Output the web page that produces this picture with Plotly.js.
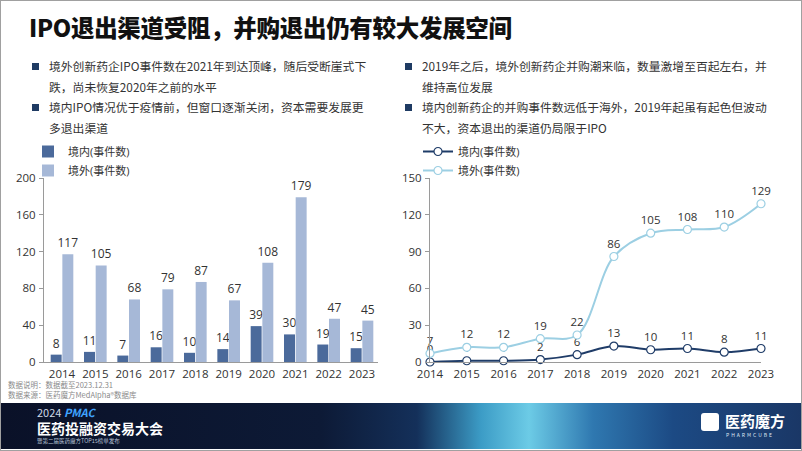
<!DOCTYPE html>
<html>
<head>
<meta charset="utf-8">
<script src="https://cdn.plot.ly/plotly-3.0.1.min.js"></script>
<style>
  html, body { margin:0; padding:0; width:802px; height:451px; overflow:hidden; background:#fff; }
  body { position:relative; font-family:"Noto Sans CJK SC","Noto Sans",sans-serif; }
  #frame { position:absolute; left:0; top:0; width:800px; height:449px; border:1px solid #a0a0a0; }
  #chart { position:absolute; left:0; top:0; width:802px; height:451px; }
  #title { position:absolute; left:29px; top:10px; font-size:23.5px; font-weight:900; color:#111; letter-spacing:-0.3px; white-space:nowrap; }
  .bul { position:absolute; font-size:11.8px; color:#333; line-height:20.5px; white-space:nowrap; }
  .bul .it { position:relative; padding-left:17px; }
  .bul .it:before { content:""; position:absolute; left:0; top:7px; width:7px; height:7px; background:#1f3b63; }
  #src { position:absolute; left:8px; top:380px; font-size:7.5px; color:#8a8a8a; line-height:10px; }
  #footer { position:absolute; left:1px; top:403px; width:800px; height:46px;
    background: linear-gradient(90deg, #0a1128 0%, #0d1a36 40%, #14305a 52%, #3c9cc6 60%, #6ccbe6 66%, #2f78b0 74%, #1c4a84 84%, #1a3766 100%); }
  #f1 { position:absolute; left:36px; top:3px; color:#cfd8e6; font-size:11px; line-height:12px; }
  #f1 b { color:#3fa3ff; font-weight:700; font-style:italic; }
  #f2 { position:absolute; left:36px; top:17px; color:#fff; font-size:14px; font-weight:700; line-height:16px; }
  #f3 { position:absolute; left:36px; top:35px; color:#b8c3d6; font-size:5.5px; line-height:7px; }
  #logo { position:absolute; left:700px; top:10px; width:18px; height:18px; background:#fff; border-radius:3px; }
  #l1 { position:absolute; left:724px; top:9px; color:#fff; font-size:15px; font-weight:700; line-height:18px; }
  #l2 { position:absolute; left:725px; top:29px; color:#dfe8f4; font-size:5px; letter-spacing:2px; line-height:6px; }
</style>
</head>
<body>
<div id="chart"></div>
<div id="title">IPO退出渠道受阻，并购退出仍有较大发展空间</div>
<div class="bul" style="left:32px; top:56px;">
  <div class="it">境外创新药企IPO事件数在2021年到达顶峰，随后受断崖式下<br>跌，尚未恢复2020年之前的水平</div>
  <div class="it">境内IPO情况优于疫情前，但窗口逐渐关闭，资本需要发展更<br>多退出渠道</div>
</div>
<div class="bul" style="left:405px; top:56px;">
  <div class="it">2019年之后，境外创新药企并购潮来临，数量激增至百起左右，并<br>维持高位发展</div>
  <div class="it">境内创新药企的并购事件数远低于海外，2019年起虽有起色但波动<br>不大，资本退出的渠道仍局限于IPO</div>
</div>
<div id="src">数据说明：数据截至2023.12.31<br>数据来源：医药魔方MedAlpha®数据库</div>
<div id="footer">
  <div id="f1">2024 <b>PMAC</b></div>
  <div id="f2">医药投融资交易大会</div>
  <div id="f3">暨第二届医药魔方TOP15榜单发布</div>
  <div id="logo"></div>
  <div id="l1">医药魔方</div>
  <div id="l2">PHARMCUBE</div>
</div>
<div id="frame"></div>
<script>
const years = ['2014','2015','2016','2017','2018','2019','2020','2021','2022','2023'];
const ipoDomestic = [8,11,7,16,10,14,39,30,19,15];
const ipoOverseas = [117,105,68,79,87,67,108,179,47,45];
const maDomestic = [0,1,1,2,6,13,10,11,8,11];
const maOverseas = [7,12,12,19,22,86,105,108,110,129];
const nameDomestic = '境内(事件数)';
const nameOverseas = '境外(事件数)';

const W = 802, H = 451;
const px = v => v / W;
const py = v => (H - v) / H;
const fam = '"Open Sans","Noto Sans CJK SC",sans-serif';
const txtFont = {family: fam, size: 12, color: '#333'};
const lineTxtFont = {family: fam, size: 11.5, color: '#333'};

const traces = [
  {type:'bar', x:years, y:ipoDomestic, name:nameDomestic, marker:{color:'#4b6a9b'},
   text:ipoDomestic.map(String), textposition:'outside', constraintext:'none', textfont:txtFont, cliponaxis:false,
   xaxis:'x', yaxis:'y', legend:'legend', hoverinfo:'skip'},
  {type:'bar', x:years, y:ipoOverseas, name:nameOverseas, marker:{color:'#a6b8d7'},
   text:ipoOverseas.map(String), textposition:'outside', constraintext:'none', textfont:txtFont, cliponaxis:false,
   xaxis:'x', yaxis:'y', legend:'legend', hoverinfo:'skip'},
  {type:'scatter', mode:'lines+markers+text', x:years, y:maDomestic, name:nameDomestic,
   line:{color:'#1f3c68', width:2, shape:'spline', smoothing:1},
   marker:{size:8, color:'#fff', line:{color:'#1f3c68', width:1.2}},
   text:maDomestic.map(String), textposition:'top center', textfont:lineTxtFont, cliponaxis:false,
   xaxis:'x2', yaxis:'y2', legend:'legend2', hoverinfo:'skip'},
  {type:'scatter', mode:'lines+markers+text', x:years, y:maOverseas, name:nameOverseas,
   line:{color:'#9ccfe3', width:2, shape:'spline', smoothing:1},
   marker:{size:8, color:'#fff', line:{color:'#9ccfe3', width:1.2}},
   text:maOverseas.map(String), textposition:'top center', textfont:lineTxtFont, cliponaxis:false,
   xaxis:'x2', yaxis:'y2', legend:'legend2', hoverinfo:'skip'}
];

const axisCommon = {showgrid:false, zeroline:false, showline:true, linecolor:'#9a9a9a', linewidth:1,
  tickfont:{family:fam, size:11.5, color:'#333'}, fixedrange:true};

const layout = {
  width: W, height: H,
  margin:{l:0, r:0, t:0, b:0},
  paper_bgcolor:'rgba(0,0,0,0)', plot_bgcolor:'rgba(0,0,0,0)',
  barmode:'group', bargap:0.3, bargroupgap:0.06,
  font:{family:fam, color:'#333'},
  xaxis: Object.assign({}, axisCommon, {domain:[px(44), px(378)], anchor:'y', type:'category',
     range:[-0.54, 9.48], ticks:'', ticklabelstandoff:1}),
  yaxis: Object.assign({}, axisCommon, {domain:[py(362), py(178)], anchor:'x', range:[0,200],
     tickvals:[0,40,80,120,160,200], ticks:'outside', ticklen:4, tickcolor:'#9a9a9a', ticklabelstandoff:1}),
  xaxis2: Object.assign({}, axisCommon, {domain:[px(430), px(761)], anchor:'y2', type:'category',
     range:[0, 9], ticks:'', ticklabelstandoff:1}),
  yaxis2: Object.assign({}, axisCommon, {domain:[py(362), py(178)], anchor:'x2', range:[0,150],
     tickvals:[0,30,60,90,120,150], ticks:'outside', ticklen:4, tickcolor:'#9a9a9a', ticklabelstandoff:1}),
  showlegend:true,
  legend:{x:px(28), y:py(137), xanchor:'left', yanchor:'top', orientation:'v',
     bgcolor:'rgba(0,0,0,0)', font:{family:fam, size:11, color:'#333'}, itemwidth:30, tracegroupgap:0},
  legend2:{x:px(418), y:py(137), xanchor:'left', yanchor:'top', orientation:'v',
     bgcolor:'rgba(0,0,0,0)', font:{family:fam, size:11, color:'#333'}, itemwidth:30, tracegroupgap:0}
};

Plotly.newPlot('chart', traces, layout, {displayModeBar:false, staticPlot:true});
</script>
</body>
</html>
